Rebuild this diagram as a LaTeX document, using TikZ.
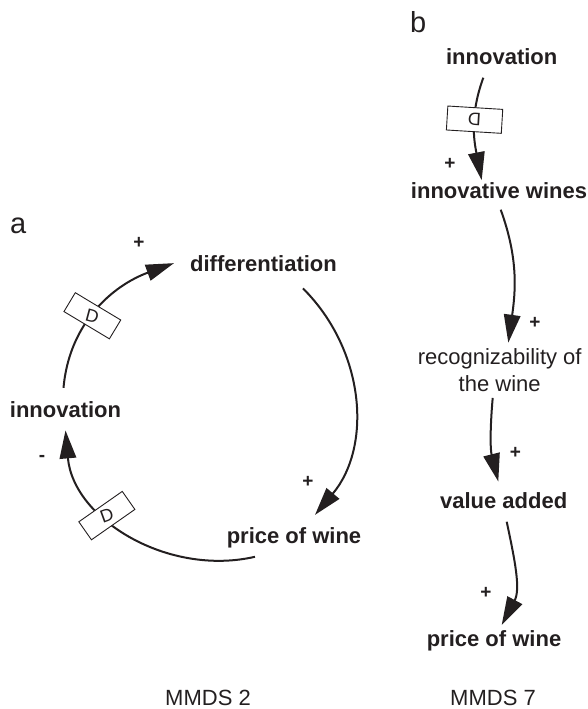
\documentclass[tikz,border=0pt]{standalone}
\usepackage{fontspec}
\setmainfont{Liberation Sans}
\usetikzlibrary{arrows.meta}

\definecolor{ink}{HTML}{231F20}

\tikzset{
  var/.style={text=ink, inner sep=6pt, font=\fontsize{22}{26.7}\selectfont\bfseries},
  plainvar/.style={text=ink, inner sep=6pt, align=center, font=\fontsize{22}{26.7}\selectfont},
  caption/.style={text=ink, inner sep=0pt, font=\fontsize{22}{26}\selectfont},
  panel/.style={text=ink, inner sep=0pt, font=\fontsize{29}{32}\selectfont},
  polarity/.style={text=ink, inner sep=0pt, font=\fontsize{19}{20}\selectfont\bfseries},
  link/.style={draw=ink, line width=2pt, -{Triangle[length=28pt,width=16.5pt]}},
  delaybox/.style={draw=ink, fill=white, line width=0.9pt, minimum width=53pt,
    minimum height=22pt, inner sep=0pt, text=ink, font=\fontsize{18}{18}\selectfont}
}

\begin{document}
\begin{tikzpicture}[x=1pt,y=-1pt]

\useasboundingbox (0,0) rectangle (587,709);

% Panel a: the loop
\node[panel, anchor=base west] (labA) at (10,233) {a};
\node[var, anchor=base] (difA) at (263.5,271) {differentiation};
\node[var, anchor=base] (innA) at (65.5,417) {innovation};
\node[var, anchor=base] (priA) at (294,543) {price of wine};

\draw[link] ([xshift=-2pt,yshift=7pt]innA.north) to[out=85,in=200]
  node[delaybox, pos=0.45, rotate=-31] (delA1) {\rotatebox{16}{D}}
  ([xshift=-10pt]difA.west);
\draw[link] ([xshift=39.5pt,yshift=-11pt]difA.south) to[out=-45,in=50]
  ([xshift=21pt,yshift=6pt]priA.north);
\draw[link] ([xshift=-39pt,yshift=-3pt]priA.south) to[out=193,in=-85]
  node[delaybox, pos=0.62, rotate=35] (delA2) {\rotatebox{-15}{D}}
  ([yshift=-7pt]innA.south);

\node[polarity] (sgnA1) at (139,243) {+};
\node[polarity] (sgnA2) at (308,481.5) {+};
\node[polarity] (sgnA3) at (42,458.5) {-};

\node[caption, anchor=base] (capA) at (208,705) {MMDS 2};

% Panel b: the chain
\node[panel, anchor=base west] (labB) at (410,33) {b};
\node[var, anchor=base] (innB) at (501.7,64.3) {innovation};
\node[var, anchor=base] (iwB) at (499,198.3) {innovative wines};
\node[plainvar] (recB) at (499.7,370.3) {recognizability of\\the wine};
\node[var, anchor=base] (vaB) at (503.7,508.3) {value added};
\node[var, anchor=base] (priB) at (494,646) {price of wine};

\draw[link] ([xshift=-18.4pt,yshift=-7pt]innB.south) to[out=-110,in=101]
  node[delaybox, pos=0.41, rotate=-3.5, minimum width=55pt, minimum height=24pt] (delB) {\rotatebox{180}{D}}
  ([xshift=-17.3pt,yshift=-4pt]iwB.north);
\draw[link] ([xshift=1.7pt,yshift=-5pt]iwB.south) to[out=-70,in=82]
  ([xshift=8.6pt]recB.north);
\draw[link] ([xshift=-7pt]recB.south) to[out=-95,in=104]
  ([xshift=-5.4pt,yshift=4.6pt]vaB.north);
\draw[link] ([xshift=3pt,yshift=-7pt]vaB.south) to[out=-78,in=62]
  ([xshift=7.7pt,yshift=-1pt]priB.north);

\node[polarity] (sgnB1) at (450,163.5) {+};
\node[polarity] (sgnB2) at (535,323) {+};
\node[polarity] (sgnB3) at (515.5,452.5) {+};
\node[polarity] (sgnB4) at (486,592.5) {+};

\node[caption, anchor=base] (capB) at (493,705) {MMDS 7};

\end{tikzpicture}
\end{document}
